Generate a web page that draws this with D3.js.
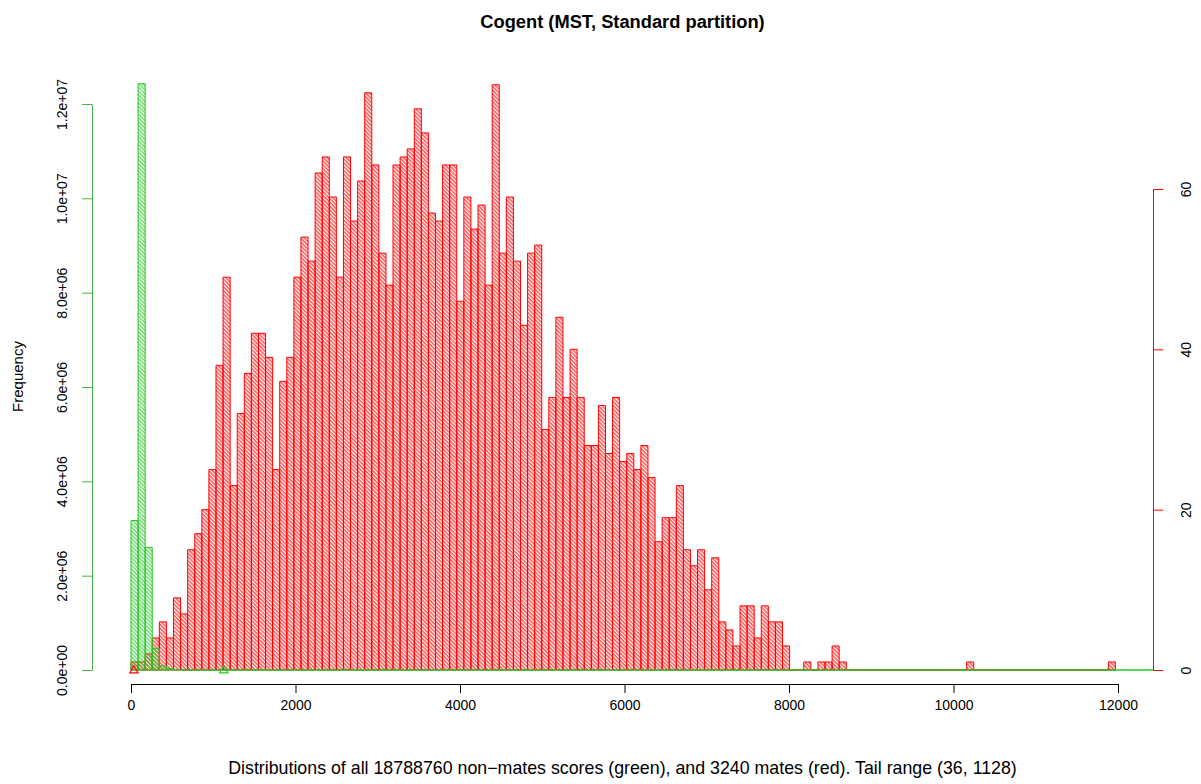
<!DOCTYPE html>
<html>
<head>
<meta charset="utf-8">
<script src="https://cdn.jsdelivr.net/npm/d3@7.9.0/dist/d3.min.js"></script>
<style>
  body { margin: 0; background: #fff; }
  text { font-family: "Liberation Sans", Arial, Helvetica, sans-serif; }
</style>
</head>
<body>
<div id="chart"></div>
<script>
// histogram breaks (score units) shared by both series
const binWidth = 86.1;

// mates (red), counts per bin
const mateCounts = [
  1, 1, 2, 4, 6, 4, 9, 7, 15, 17, 20, 25, 38, 49, 23, 32, 37, 42, 42, 39, 25, 36, 39, 49, 54,
  51, 62, 64, 59, 49, 64, 56, 61, 72, 63, 52, 48, 63, 64, 65, 70, 67, 57, 56, 63, 63, 46, 59, 55, 58, 48, 73,
  52, 59, 51, 43, 52, 53, 30, 34, 44, 34, 40, 34, 28, 28, 33, 27, 34, 26, 27, 25, 28, 24, 16,
  19, 19, 23, 15, 13, 15, 10, 14, 6, 5, 3, 8, 8, 4, 8, 6, 6, 3,
  0, 0, 1, 0, 1, 1, 3, 1,
  0, 0, 0, 0, 0, 0, 0, 0, 0, 0, 0, 0, 0, 0, 0, 0, 0, 1,
  0, 0, 0, 0, 0, 0, 0, 0, 0, 0, 0, 0, 0, 0, 0, 0, 0, 0, 0, 1
];

// non-mates (green): only the first bins are non-empty
const nonMateCounts = [3170000, 12430000, 2600000, 460000, 90000, 30000, 10000];
const nonMateBinTotal = 145;

// tail range markers
const mateTail = 36;
const nonMateTail = 1128;

const xTicks = [0, 2000, 4000, 6000, 8000, 10000, 12000];
const leftTicks = [0, 2e6, 4e6, 6e6, 8e6, 1e7, 1.2e7];
const leftTickLabels = ["0.0e+00", "2.0e+06", "4.0e+06", "6.0e+06", "8.0e+06", "1.0e+07", "1.2e+07"];
const rightTicks = [0, 20, 40, 60];

const titleText = "Cogent (MST, Standard partition)";
const xLabel = "Distributions of all 18788760 non\u2212mates scores (green), and 3240 mates (red). Tail range (36, 1128)";

const RED = "#ff0000";
const GREEN = "#22c722";
const GREEN_AXIS = "#44b444";

const width = 1201, height = 784;
const plot = { left: 92, right: 1153, top: 60, bottom: 693 };
const xAxisY = 684;

const svg = d3.select("#chart").append("svg")
  .attr("width", width)
  .attr("height", height);

const x = d3.scaleLinear().domain([0, 12000]).range([131, 1118]);
const yLeft = d3.scaleLinear().domain([0, 1.2e7]).range([670, 104]);
const yRight = d3.scaleLinear().domain([0, 60]).range([670, 189]);

const defs = svg.append("defs");
defs.append("clipPath").attr("id", "plotClip")
  .append("rect")
  .attr("x", plot.left).attr("y", plot.top)
  .attr("width", plot.right - plot.left).attr("height", plot.bottom - plot.top);

function hatch(id, color) {
  let p = defs.append("pattern")
    .attr("id", id)
    .attr("patternUnits", "userSpaceOnUse")
    .attr("width", 2.7).attr("height", 2.7)
    .attr("patternTransform", "rotate(-45)");
  p.append("line")
    .attr("x1", 1).attr("y1", -1).attr("x2", 1).attr("y2", 4)
    .attr("stroke", color).attr("stroke-width", 1);
}
hatch("hatchRed", RED);
hatch("hatchGreen", GREEN);

// bins
let mateBins = mateCounts.map((c, i) => ({ x0: i * binWidth, x1: (i + 1) * binWidth, c: c }));
let nonMateBins = d3.range(nonMateBinTotal).map(i => ({
  x0: i * binWidth, x1: (i + 1) * binWidth, c: i < nonMateCounts.length ? nonMateCounts[i] : 0
}));

function barPath(y) {
  return d => `M${x(d.x0)},${y(0)}V${y(d.c)}H${x(d.x1)}V${y(0)}Z`;
}

const bars = svg.append("g").attr("clip-path", "url(#plotClip)");

bars.append("g").selectAll("path")
  .data(mateBins)
  .join("path")
  .attr("d", barPath(yRight))
  .attr("fill", "url(#hatchRed)")
  .attr("stroke", RED)
  .attr("stroke-width", 1);

bars.append("g").selectAll("path")
  .data(nonMateBins)
  .join("path")
  .attr("d", barPath(yLeft))
  .attr("fill", "url(#hatchGreen)")
  .attr("stroke", GREEN)
  .attr("stroke-width", 1);

// tail range triangles
let tri = d3.symbol().type(d3.symbolTriangle).size(30);
svg.append("path").attr("d", tri())
  .attr("transform", `translate(${x(mateTail)},${yRight(0) + 0.5})`)
  .attr("fill", "none").attr("stroke", RED).attr("stroke-width", 1.2);
svg.append("path").attr("d", tri())
  .attr("transform", `translate(${x(nonMateTail)},${yLeft(0) + 0.5})`)
  .attr("fill", "none").attr("stroke", GREEN).attr("stroke-width", 1.2);

// x axis
let xAxis = svg.append("g")
  .attr("transform", `translate(0,${xAxisY})`)
  .call(d3.axisBottom(x).tickValues(xTicks).tickFormat(d3.format("d")).tickSize(9).tickSizeOuter(0));
xAxis.selectAll("text").attr("font-size", 14).attr("fill", "#000").attr("y", 26).attr("dy", 0);
xAxis.select(".domain").attr("stroke", "#000");

// left axis (non-mates)
let leftAxis = svg.append("g")
  .attr("transform", `translate(${plot.left},0)`)
  .call(d3.axisLeft(yLeft).tickValues(leftTicks).tickFormat((d, i) => leftTickLabels[i]).tickSize(10).tickSizeOuter(0));
leftAxis.selectAll("line, .domain").attr("stroke", GREEN_AXIS);
leftAxis.selectAll("text")
  .attr("font-size", 14).attr("fill", "#000")
  .attr("text-anchor", "middle")
  .attr("transform", "rotate(-90)")
  .attr("x", 0).attr("y", -30).attr("dy", "0.35em");

// right axis (mates)
let rightAxis = svg.append("g")
  .attr("transform", `translate(${plot.right},0)`)
  .call(d3.axisRight(yRight).tickValues(rightTicks).tickSize(10).tickSizeOuter(0));
rightAxis.selectAll("line, .domain").attr("stroke", RED);
rightAxis.selectAll("text")
  .attr("font-size", 14).attr("fill", "#000")
  .attr("text-anchor", "middle")
  .attr("transform", "rotate(-90)")
  .attr("x", 0).attr("y", 33).attr("dy", "0.35em");

// titles
svg.append("text")
  .attr("x", (plot.left + plot.right) / 2).attr("y", 28)
  .attr("text-anchor", "middle")
  .attr("font-size", 18.3).attr("font-weight", "bold")
  .text(titleText);

svg.append("text")
  .attr("x", (plot.left + plot.right) / 2).attr("y", 774)
  .attr("text-anchor", "middle")
  .attr("font-size", 17.8)
  .text(xLabel);

svg.append("text")
  .attr("transform", `translate(23,${(plot.top + plot.bottom) / 2}) rotate(-90)`)
  .attr("text-anchor", "middle")
  .attr("font-size", 15)
  .text("Frequency");
</script>
</body>
</html>
